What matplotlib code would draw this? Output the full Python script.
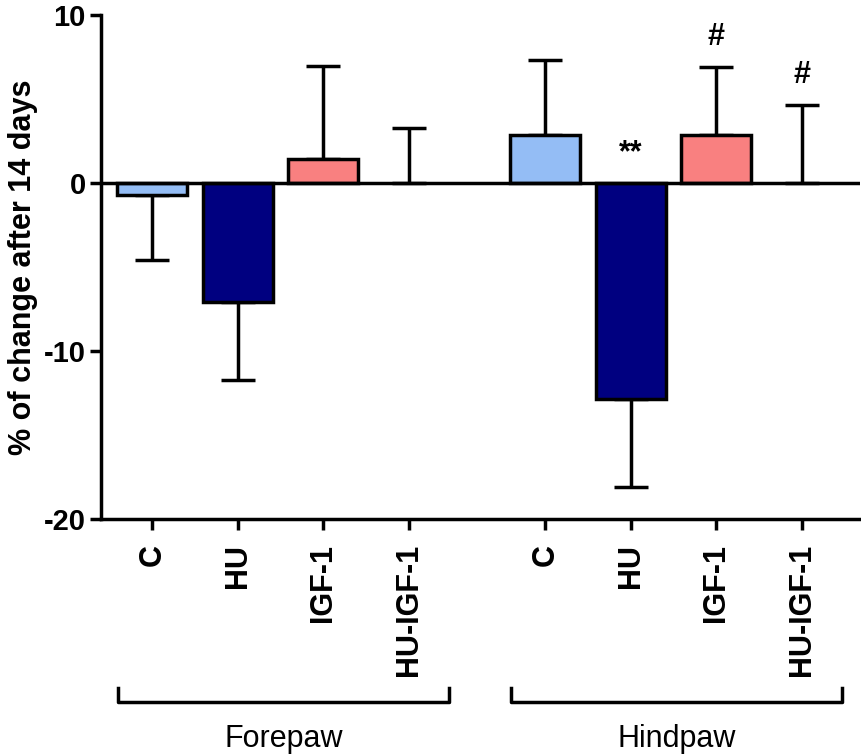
import numpy as np
import matplotlib
matplotlib.use("Agg")
import matplotlib.pyplot as plt

plt.rcParams['font.family'] = ['Liberation Sans', 'DejaVu Sans']
plt.rcParams['axes.unicode_minus'] = False

# data
groups = ['Forepaw', 'Hindpaw']
treatments = ['C', 'HU', 'IGF-1', 'HU-IGF-1']
forepaw_mean = [-0.7, -7.1, 1.45, 0.0]
forepaw_err = [3.9, 4.65, 5.5, 3.3]
hindpaw_mean = [2.85, -12.85, 2.85, 0.0]
hindpaw_err = [4.45, 5.25, 4.05, 4.65]
hindpaw_marks = ['', '**', '#', '#']

colors = ['#94BDF5', '#000080', '#F98080', '#FFFFFF']

fig = plt.figure(figsize=(8.61, 7.56), dpi=100)
ax = fig.add_axes([0.1173, 0.3135, 0.8815, 0.6665])

lw = 2.5
gap = 1.6
pos_f = np.arange(4)
pos_h = np.arange(4) + 3 + gap
width = 0.82

for pos, means, errs in [(pos_f, forepaw_mean, forepaw_err), (pos_h, hindpaw_mean, hindpaw_err)]:
    means = np.array(means)
    errs = np.array(errs)
    lower = np.where(means < 0, errs, 0)
    upper = np.where(means >= 0, errs, 0)
    for i in range(4):
        if means[i] != 0:
            ax.bar(pos[i], means[i], width=width, color=colors[i], edgecolor='black',
                   linewidth=lw, zorder=2)
    ax.errorbar(pos, means, yerr=[lower, upper], fmt='none', ecolor='black',
                elinewidth=lw, capsize=12, capthick=lw, zorder=1)

# significance marks
for p, m, e, s in zip(pos_h, hindpaw_mean, hindpaw_err, hindpaw_marks):
    if s == '**':
        ax.text(p, 0.9, s, ha='center', va='bottom', fontsize=22, fontweight='bold')
    elif s:
        ax.text(p, m + e + 0.9, s, ha='center', va='bottom', fontsize=22, fontweight='bold')

ax.axhline(0, color='black', linewidth=lw, zorder=3)

ax.set_xlim(-0.6, pos_h[-1] + 0.68)
ax.set_ylim(-20, 10)
ax.set_yticks([-20, -10, 0, 10])
ax.set_xticks(np.concatenate([pos_f, pos_h]))
ax.set_xticklabels(treatments * 2, rotation=90, fontsize=22, fontweight='bold')
for lab in ax.get_yticklabels():
    lab.set_fontsize(21)
    lab.set_fontweight('bold')
ax.tick_params(axis='both', width=lw, length=8, direction='out')
ax.tick_params(axis='x', pad=10)
ax.tick_params(axis='y', pad=3)

ax.spines['top'].set_visible(False)
ax.spines['right'].set_visible(False)
ax.spines['left'].set_linewidth(lw)
ax.spines['bottom'].set_linewidth(lw)

ax.set_ylabel('% of change after 14 days', fontsize=22, fontweight='bold', labelpad=4)

# group brackets
trans = ax.get_xaxis_transform()
for name, pos in zip(groups, [pos_f, pos_h]):
    x0 = pos[0] - 0.4
    x1 = pos[-1] + 0.47
    ax.plot([x0, x0, x1, x1], [-0.335, -0.363, -0.363, -0.335], color='black',
            linewidth=lw, transform=trans, clip_on=False)
    ax.text((x0 + x1) / 2, -0.437, name, ha='center', va='center', fontsize=22,
            transform=trans)

fig.savefig('out.png', dpi=100)
